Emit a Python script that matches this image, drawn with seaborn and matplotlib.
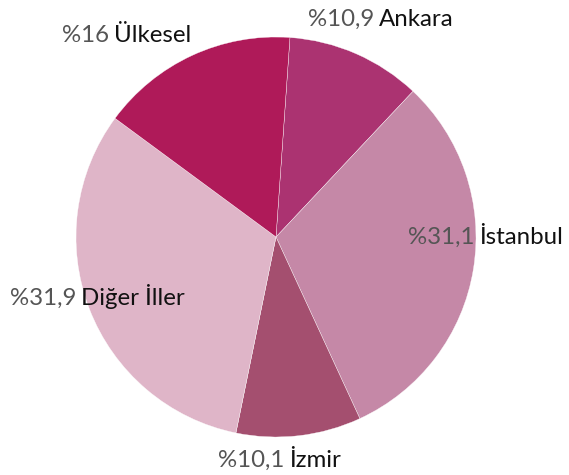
import matplotlib.pyplot as plt
import seaborn as sns

# shares by region, clockwise from the top
regions = ["Ankara", "İstanbul", "İzmir", "Diğer İller", "Ülkesel"]
shares = [10.9, 31.1, 10.1, 31.9, 16.0]
share_labels = ["%10,9", "%31,1", "%10,1", "%31,9", "%16"]
colors = ["#AB3371", "#C588A7", "#A44F6F", "#DFB5C8", "#AF1A59"]

# label anchors (left edge, baseline) in pixel coords of the 569x475 image
label_pos = [(308, 26), (408, 244), (218, 467), (10, 305), (62, 42)]

sns.set_style("white")
plt.rcParams["font.family"] = ["Lato", "DejaVu Sans"]

W, H = 569, 475
fig = plt.figure(figsize=(W / 100, H / 100), dpi=100)
ax = fig.add_axes([0, 0, 1, 1])

ax.pie(shares, colors=colors, startangle=86, counterclock=False,
       center=(276, H - 237), radius=200,
       wedgeprops=dict(edgecolor="white", linewidth=0.25))

ax.set_xlim(0, W)
ax.set_ylim(0, H)
ax.set_aspect("equal")
ax.axis("off")

fs = 17.3
for (px, py), pct, name in zip(label_pos, share_labels, regions):
    t = ax.text(px, H - py, pct, color="#555555", fontsize=fs,
                ha="left", va="baseline")
    ax.annotate(name, xy=(1, 0), xycoords=t, xytext=(3.5, 0),
                textcoords="offset points", color="#111111", fontsize=fs,
                ha="left", va="bottom")

plt.savefig("out.png", dpi=100)
plt.close()
